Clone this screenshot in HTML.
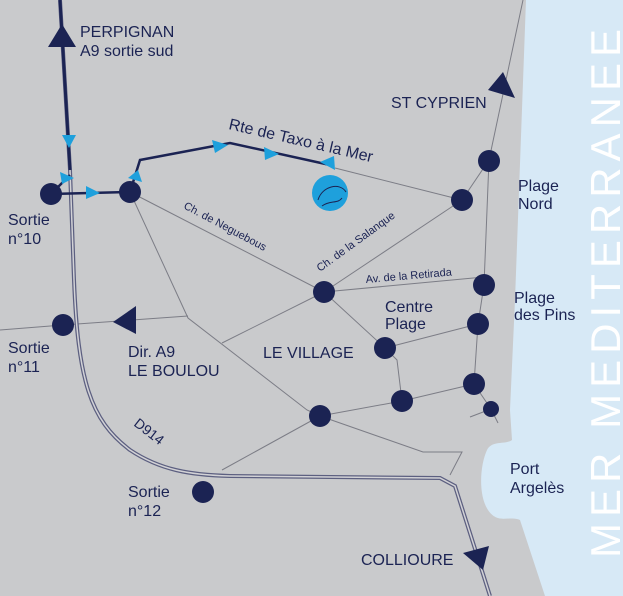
<!DOCTYPE html>
<html><head><style>
html,body{margin:0;padding:0;background:#c9cacc;}
svg{display:block;}
text{font-family:"Liberation Sans",sans-serif;fill:#1b2353;}
</style></head><body>
<svg width="623" height="596" viewBox="0 0 623 596" xmlns="http://www.w3.org/2000/svg">
<rect width="623" height="596" fill="#c9cacc"/>
<path d="M526,0 L623,0 L623,596 L545,596 L520,520 C510,515 498,525 488,510 C478,495 480,465 487,450 C492,440 505,445 512,440 L510,410 L515,300 Z" fill="#d7e9f6"/>
<text x="0" y="0" transform="translate(620,558) rotate(-90)" style="fill:#ffffff;font-size:42px;letter-spacing:6px" textLength="535">MER MEDITERRANEE</text>
<g stroke="#7c7d86" stroke-width="1" fill="none">
<path d="M130,192 L324,292"/>
<path d="M130,192 L188,318 L307,410 L320,416"/>
<path d="M222,343 L324,292"/>
<path d="M0,330 L63,325 L188,316"/>
<path d="M320,416 L222,470"/>
<path d="M320,416 L402,401 L474,384"/>
<path d="M320,416 L423,452 L462,452 L450,475"/>
<path d="M385,348 L324,292"/>
<path d="M385,348 L478,324"/>
<path d="M385,348 L397,360 L402,401"/>
<path d="M324,292 L462,200"/>
<path d="M324,292 L484,277"/>
<path d="M335,168 L462,200"/>
<path d="M462,200 L489,160 L523,0"/>
<path d="M489,160 L484,285 L478,324 L474,384 L491,409 L498,423"/>
<path d="M470,417 L491,409"/>
</g>
<path d="M60,0 L70,170 L74,280 C78,380 90,420 130,450 C160,470 190,475 230,476 L440,478 L455,486 L490,596" stroke="#5c5f80" stroke-width="4" fill="none"/>
<path d="M70,170 L74,280 C78,380 90,420 130,450 C160,470 190,475 230,476 L440,478 L455,486 L490,596" stroke="#d2d2d6" stroke-width="1.5" fill="none"/>
<path d="M60,0 L70,170" stroke="#1b2353" stroke-width="3" fill="none"/>
<g stroke="#1b2353" stroke-width="2.5" fill="none">
<path d="M51,194 L130,192"/>
<path d="M51,194 L70,175"/>
<path d="M130,192 L140,160 L230,143 L330,165"/>
</g>
<g fill="#1ea0dc">
<polygon points="62,135 76,135 69,148"/>
<polygon points="60,172 74,178 62,184"/>
<polygon points="86,186 100,193 86,199"/>
<polygon points="128,178 138,170 142,182"/>
<polygon points="212,140 228,145 215,153"/>
<polygon points="264,147 279,154 265,160"/>
<polygon points="320,162 334,156 335,170"/>
</g>
<circle cx="330" cy="193" r="18" fill="#1ea0dc"/>
<path d="M318,200 C322,186 340,182 346,192 M322,206 C330,200 338,204 342,198" stroke="#1b2353" stroke-width="1" fill="none"/>
<g fill="#1b2353">
<polygon points="48,47 62,24 76,47"/>
<polygon points="488,90 503,72 515,98"/>
<polygon points="463,553 489,546 483,570"/>
<polygon points="113,322 136,306 136,334"/>
<circle cx="51" cy="194" r="11"/>
<circle cx="130" cy="192" r="11"/>
<circle cx="462" cy="200" r="11"/>
<circle cx="489" cy="161" r="11"/>
<circle cx="324" cy="292" r="11"/>
<circle cx="484" cy="285" r="11"/>
<circle cx="478" cy="324" r="11"/>
<circle cx="385" cy="348" r="11"/>
<circle cx="474" cy="384" r="11"/>
<circle cx="491" cy="409" r="8"/>
<circle cx="402" cy="401" r="11"/>
<circle cx="320" cy="416" r="11"/>
<circle cx="63" cy="325" r="11"/>
<circle cx="203" cy="492" r="11"/>
</g>
<g style="font-size:16px">
<text x="80" y="37">PERPIGNAN</text>
<text x="80" y="56">A9 sortie sud</text>
<text x="8" y="225">Sortie</text>
<text x="8" y="244">n°10</text>
<text x="8" y="353">Sortie</text>
<text x="8" y="372">n°11</text>
<text x="128" y="357">Dir. A9</text>
<text x="128" y="376">LE BOULOU</text>
<text x="263" y="358">LE VILLAGE</text>
<text x="128" y="497">Sortie</text>
<text x="128" y="516">n°12</text>
<text x="391" y="108">ST CYPRIEN</text>
<text x="518" y="191">Plage</text>
<text x="518" y="209">Nord</text>
<text x="514" y="303">Plage</text>
<text x="514" y="320">des Pins</text>
<text x="385" y="312">Centre</text>
<text x="385" y="329">Plage</text>
<text x="510" y="474">Port</text>
<text x="510" y="493">Argelès</text>
<text x="361" y="565">COLLIOURE</text>
<text x="0" y="0" transform="translate(228,129) rotate(13)">Rte de Taxo à la Mer</text>
</g>
<g style="font-size:11px">
<text x="0" y="0" transform="translate(183,208) rotate(28)">Ch. de Neguebous</text>
<text x="0" y="0" transform="translate(320,272) rotate(-36)">Ch. de la Salanque</text>
<text x="0" y="0" transform="translate(366,283) rotate(-5)">Av. de la Retirada</text>
<text x="0" y="0" transform="translate(133,425) rotate(38)" style="font-size:14px">D914</text>
</g>
</svg>
</body></html>
